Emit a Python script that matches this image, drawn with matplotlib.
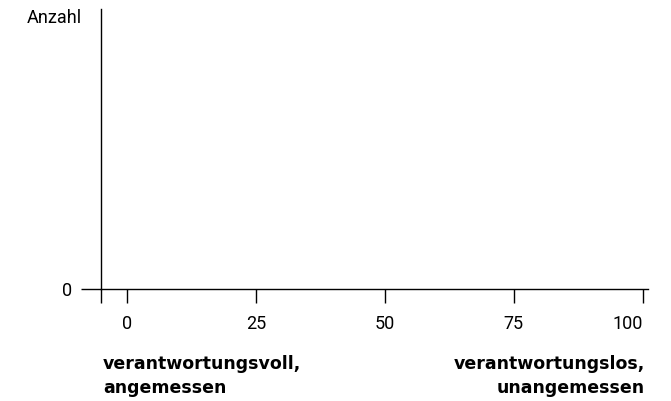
import matplotlib.pyplot as plt

plt.rcParams['font.family'] = ['Roboto', 'DejaVu Sans']

x_ticks = [0, 25, 50, 75, 100]
x_labels = ['0', '25', '50', '75', '100']
y_ticks = [0]
y_label = 'Anzahl'
left_label = 'verantwortungsvoll,\nangemessen'
right_label = 'verantwortungslos,\nunangemessen'

fig = plt.figure(figsize=(6.71, 4.01), dpi=100)
ax = fig.add_axes([101 / 671, 1 - 289 / 401, (648 - 101) / 671, (289 - 9) / 401])
ax.set_xlim(-5, 101)
ax.set_ylim(0, 1)

for s in ['top', 'right']:
    ax.spines[s].set_visible(False)
for s in ['left', 'bottom']:
    ax.spines[s].set_linewidth(1.0)

# extra tick under the y axis so the line runs past the x axis
ax.set_xticks([-5] + x_ticks)
ax.set_xticklabels([''] + x_labels, fontsize=13)
ax.tick_params(axis='x', direction='out', length=10, width=1.0, pad=9)
ax.get_xticklabels()[-1].set_horizontalalignment('right')
ax.set_yticks(y_ticks)
ax.set_yticklabels(['0'], fontsize=13)
ax.tick_params(axis='y', direction='out', length=14.4, width=1.0, pad=6.5)

fig.text(82 / 671, 1 - 18 / 401, y_label, ha='right', va='center', fontsize=13)
fig.text(103 / 671, 1 - 376 / 401, left_label, ha='left', va='center',
         fontsize=12.5, fontweight='bold', linespacing=1.45, family='DejaVu Sans')
fig.text(645 / 671, 1 - 376 / 401, right_label, ha='right', va='center',
         fontsize=12.5, fontweight='bold', linespacing=1.45, multialignment='right',
         family='DejaVu Sans')

fig.savefig('out.png', dpi=100)
